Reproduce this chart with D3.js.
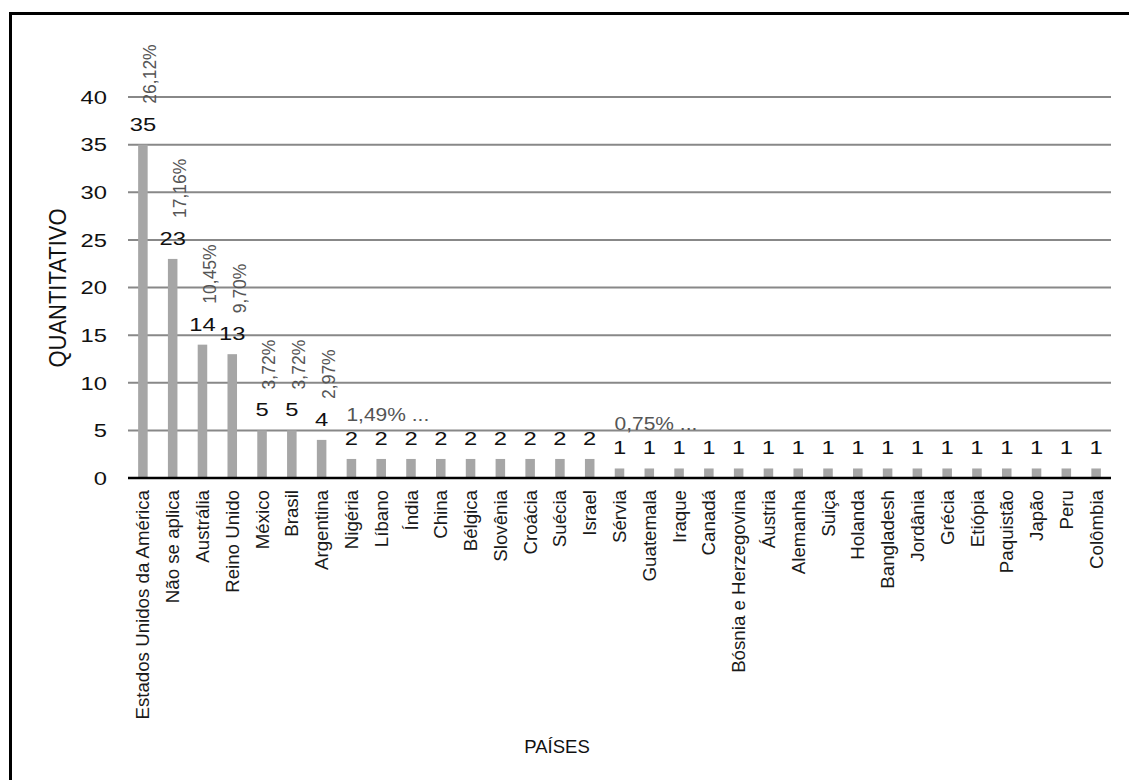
<!DOCTYPE html>
<html>
<head>
<meta charset="utf-8">
<script src="https://cdn.jsdelivr.net/npm/d3@7"></script>
<style>
  html, body { margin: 0; padding: 0; background: #fff; }
  svg { display: block; }
  text { font-family: "Liberation Sans", Arial, sans-serif; }
</style>
</head>
<body>
<svg id="chart" width="1129" height="780"></svg>
<script>
// Countries and number of occurrences per country
const paises = [
  "Estados Unidos da América", "Não se aplica", "Austrália", "Reino Unido",
  "México", "Brasil", "Argentina", "Nigéria", "Líbano", "Índia", "China",
  "Bélgica", "Slovênia", "Croácia", "Suécia", "Israel", "Sérvia", "Guatemala",
  "Iraque", "Canadá", "Bósnia e Herzegovina", "Áustria", "Alemanha", "Suiça",
  "Holanda", "Bangladesh", "Jordânia", "Grécia", "Etiópia", "Paquistão",
  "Japão", "Peru", "Colômbia"
];
const quantitativo = [35, 23, 14, 13, 5, 5, 4, 2, 2, 2, 2, 2, 2, 2, 2, 2,
  1, 1, 1, 1, 1, 1, 1, 1, 1, 1, 1, 1, 1, 1, 1, 1, 1];

// Percentage labels (rotated above the tallest bars)
const percentRotulos = ["26,12%", "17,16%", "10,45%", "9,70%", "3,72%", "3,72%", "2,97%"];
// Truncated percentage labels shown horizontally over the first bar of each group
const percentGrupo = [
  { pais: "Nigéria", texto: "1,49% ..." },
  { pais: "Sérvia", texto: "0,75% ..." }
];

const yTicks = [0, 5, 10, 15, 20, 25, 30, 35, 40];

const svg = d3.select("#chart");
const NUM_SX = 1.25;   // horizontal widening of numeric labels

// frame
svg.append("rect")
  .attr("x", 10.5).attr("y", 13.5)
  .attr("width", 1200).attr("height", 800)
  .attr("fill", "none").attr("stroke", "#000").attr("stroke-width", 3);

const x = d3.scaleBand()
  .domain(paises)
  .range([128, 1111])
  .paddingInner(0.68)
  .paddingOuter(0.34);

const y = d3.scaleLinear().domain([0, 40]).range([478, 97]);

// gridlines
svg.append("g")
  .selectAll("line")
  .data(yTicks.filter(d => d > 0))
  .join("line")
  .attr("x1", 128).attr("x2", 1111)
  .attr("y1", d => y(d)).attr("y2", d => y(d))
  .attr("stroke", "#888").attr("stroke-width", 2);

// y tick labels
svg.append("g")
  .selectAll("text")
  .data(yTicks)
  .join("text")
  .attr("transform", d => `translate(107,${y(d)}) scale(${NUM_SX},1)`)
  .attr("dy", "0.36em")
  .attr("text-anchor", "end")
  .attr("font-size", 19)
  .attr("fill", "#111")
  .text(d => d);

// bars
const data = paises.map((p, i) => ({ pais: p, valor: quantitativo[i], i }));
svg.append("g")
  .selectAll("rect")
  .data(data)
  .join("rect")
  .attr("x", d => x(d.pais))
  .attr("y", d => y(d.valor))
  .attr("width", x.bandwidth())
  .attr("height", d => y(0) - y(d.valor))
  .attr("fill", "#a6a6a6");

// baseline axis
svg.append("line")
  .attr("x1", 128).attr("x2", 1111)
  .attr("y1", y(0)).attr("y2", y(0))
  .attr("stroke", "#000").attr("stroke-width", 2.5);

const cx = p => x(p) + x.bandwidth() / 2;

// value labels
svg.append("g")
  .selectAll("text")
  .data(data)
  .join("text")
  .attr("transform", d => `translate(${cx(d.pais)},${y(d.valor) - 14}) scale(${NUM_SX},1)`)
  .attr("text-anchor", "middle")
  .attr("font-size", 19)
  .attr("fill", "#111")
  .text(d => d.valor);

// rotated percentage labels
svg.append("g")
  .selectAll("text")
  .data(percentRotulos.map((t, i) => ({ t, d: data[i] })))
  .join("text")
  .attr("transform", o => `translate(${cx(o.d.pais) + 3.5},${y(o.d.valor) - 41}) scale(1.1,1) rotate(-90)`)
  .attr("dy", 9)
  .attr("text-anchor", "start")
  .attr("font-size", 17.5)
  .attr("fill", "#555")
  .text(o => o.t);

// horizontal group percentage labels
svg.append("g")
  .selectAll("text")
  .data(percentGrupo)
  .join("text")
  .attr("transform", o => `translate(${cx(o.pais) - 5},${y(quantitativo[paises.indexOf(o.pais)]) - 38}) scale(1.2,1)`)
  .attr("text-anchor", "start")
  .attr("font-size", 17.5)
  .attr("fill", "#555")
  .text(o => o.texto);

// category labels
svg.append("g")
  .selectAll("text")
  .data(paises)
  .join("text")
  .attr("transform", p => `translate(${cx(p)},490) rotate(-90)`)
  .attr("dy", "0.35em")
  .attr("text-anchor", "end")
  .attr("font-size", 18.7)
  .attr("fill", "#1a1a1a")
  .text(p => p);

// axis titles
svg.append("text")
  .attr("transform", "translate(66,288) scale(1.1,1) rotate(-90)")
  .attr("text-anchor", "middle")
  .attr("font-size", 22)
  .attr("fill", "#111")
  .text("QUANTITATIVO");

svg.append("text")
  .attr("x", 557).attr("y", 753)
  .attr("text-anchor", "middle")
  .attr("font-size", 18.5)
  .attr("fill", "#111")
  .text("PAÍSES");
</script>
</body>
</html>
